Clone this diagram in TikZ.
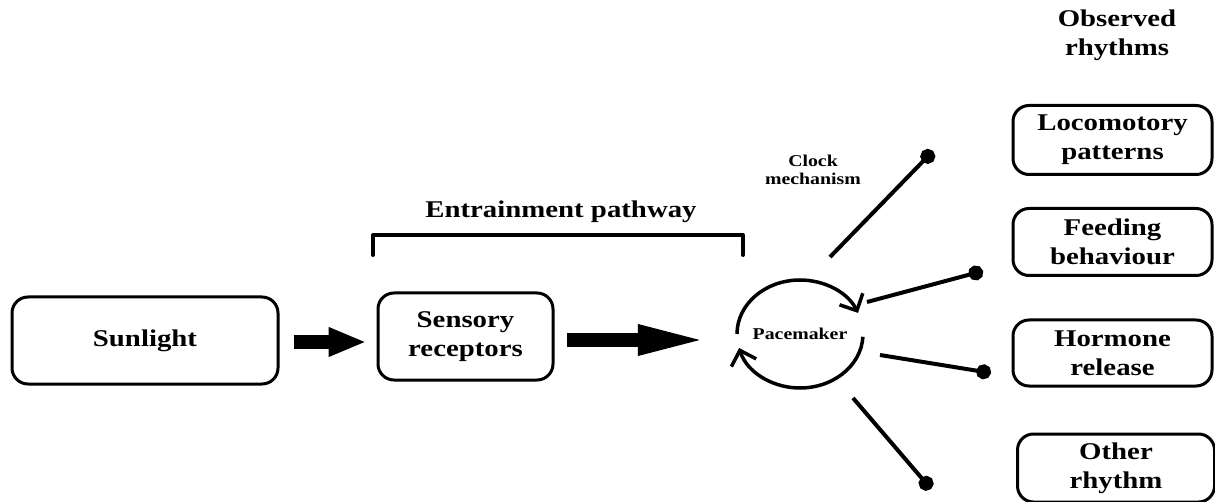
\documentclass[tikz,border=0pt]{standalone}
\usepackage{fontspec}
\setmainfont[FakeStretch=1.2]{Liberation Serif}
\usepackage{tikz}
\usetikzlibrary{arrows.meta,positioning}

\begin{document}
\begin{tikzpicture}[x=1pt, y=-1pt,
    box/.style={draw, line width=3pt, rounded corners=16pt, align=center,
        font=\bfseries\fontsize{24}{29}\selectfont},
    bigtext/.style={align=center, font=\bfseries\fontsize{24}{29}\selectfont},
    smalltext/.style={align=center, font=\bfseries\fontsize{16.5}{18}\selectfont},
    fat/.style={line width=14pt, -{Triangle[length=#1, width=27pt]}},
    cyc/.style={line width=3.5pt, -{Straight Barb[length=13pt, width=26pt]}},
    pin/.style={line width=4pt, -{Circle[length=15pt]}}]
    \useasboundingbox (0,0) rectangle (1215,502);
    % Sorgente e recettori
    \node[box, minimum width=266, minimum height=87] (sun) at (145,340.5) {Sunlight};
    \node[box, minimum width=175, minimum height=87] (sens) at (465.5,336.5) {Sensory\\receptors};
    % Pacemaker
    \node[smalltext, minimum width=126, minimum height=108] (pace) at (800,334) {Pacemaker};
    \node[smalltext] (clock) at (813,170) {Clock\\mechanism};
    \draw[cyc] ([shift={(180:63 and 54)}]pace.center) arc[start angle=180, end angle=337, x radius=63, y radius=54];
    \draw[cyc] ([shift={(3:63 and 54)}]pace.center) arc[start angle=3, end angle=165, x radius=63, y radius=54];
    % Frecce grosse
    \draw[fat=38pt, shorten <=14pt, shorten >=10pt] (sun.east |- 0,342) -- (sens.west |- 0,342);
    \draw[fat=72pt, shorten <=12pt, shorten >=27pt] (sens.east |- 0,340) -- (pace.west |- 0,340);
    % Parentesi
    \node[bigtext] (entr) at (561,212) {Entrainment pathway};
    \draw[line width=4pt, line cap=round, line join=round] (373,255) -- (373,235) -- (743,235) -- (743,255);
    % Ritmi osservati
    \node[bigtext] (obs) at (1117,35) {Observed\\rhythms};
    \node[box, minimum width=199, minimum height=69] (loco) at (1112.5,140) {Locomotory\\patterns};
    \node[box, minimum width=199, minimum height=67] (feed) at (1112.5,242) {Feeding\\behaviour};
    \node[box, minimum width=199, minimum height=66] (horm) at (1112.5,353) {Hormone\\release};
    \node[box, minimum width=197, minimum height=68] (other) at (1116,468) {Other\\rhythm};
    % Uscite
    \coordinate (o1) at (830,257);   \coordinate (d1) at (933,151);
    \coordinate (o2) at (867,302);   \coordinate (d2) at (983,271);
    \coordinate (o3) at (880,355);   \coordinate (d3) at (991,373);
    \coordinate (o4) at (853,398);   \coordinate (d4) at (931,489);
    \foreach \i in {1,...,4}
        \draw[pin] (o\i) -- (d\i);
\end{tikzpicture}
\end{document}
